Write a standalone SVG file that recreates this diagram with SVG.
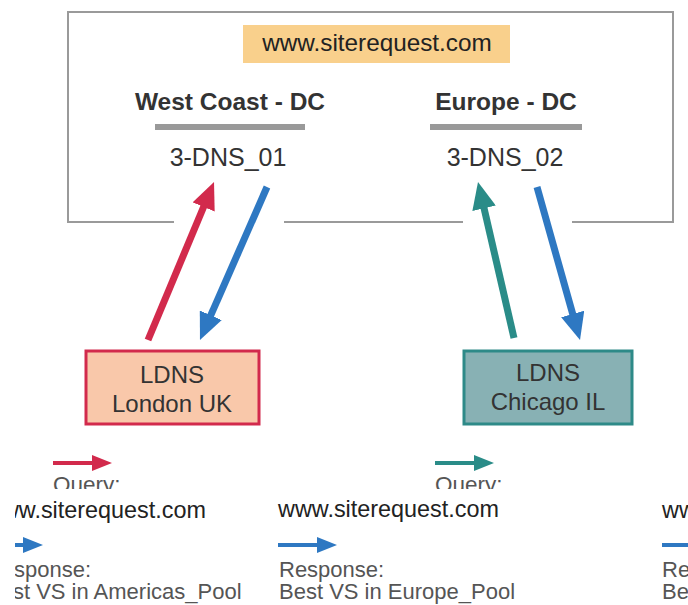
<svg xmlns="http://www.w3.org/2000/svg" width="688" height="605" viewBox="0 0 688 605">
<style>
text{font-family:"Liberation Sans",Arial,Helvetica,sans-serif;fill:#333}
.hdr{font-size:24.3px;fill:#222}
.dc{font-size:24.5px;font-weight:bold;text-anchor:middle}
.dns{font-size:25px;text-anchor:middle}
.ld{font-size:24px;text-anchor:middle}
.lg{font-size:23.4px;fill:#222}
.lr{font-size:22px;fill:#555}
.q{font-size:22.5px;fill:#555}
.big{stroke-width:7;fill:none}
.sm{stroke-width:4;fill:none}
</style>
<defs>
<marker id="hr" markerUnits="userSpaceOnUse" markerWidth="27" markerHeight="24" refX="7" refY="12" orient="auto"><path d="M0,0 L27,12 L0,24 z" fill="#D22A4C"/></marker>
<marker id="hb" markerUnits="userSpaceOnUse" markerWidth="27" markerHeight="24" refX="7" refY="12" orient="auto"><path d="M0,0 L27,12 L0,24 z" fill="#2E78C2"/></marker>
<marker id="ht" markerUnits="userSpaceOnUse" markerWidth="27" markerHeight="24" refX="7" refY="12" orient="auto"><path d="M0,0 L27,12 L0,24 z" fill="#2A8C88"/></marker>
<marker id="sr" markerUnits="userSpaceOnUse" markerWidth="20" markerHeight="16" refX="4" refY="8" orient="auto"><path d="M0,0 L20,8 L0,16 z" fill="#D22A4C"/></marker>
<marker id="sb" markerUnits="userSpaceOnUse" markerWidth="20" markerHeight="16" refX="4" refY="8" orient="auto"><path d="M0,0 L20,8 L0,16 z" fill="#2E78C2"/></marker>
<marker id="st" markerUnits="userSpaceOnUse" markerWidth="20" markerHeight="16" refX="4" refY="8" orient="auto"><path d="M0,0 L20,8 L0,16 z" fill="#2A8C88"/></marker>
<clipPath id="qc"><rect x="0" y="440" width="688" height="49"/></clipPath>
<clipPath id="lc"><rect x="15" y="495" width="673" height="110"/></clipPath>
</defs>

<g id="site-box">
<path d="M174,222 L68,222 L68,12 L673,12 L673,222 L572,222 M463,222 L284,222" fill="none" stroke="#9a9a9a" stroke-width="2"/>
<rect x="243" y="25" width="267" height="38" fill="#F9D08C"/>
<text class="hdr" x="377" y="51" text-anchor="middle">www.siterequest.com</text>
</g>

<g id="west-dc">
<text class="dc" x="230" y="110">West Coast - DC</text>
<rect x="155" y="124" width="150" height="6" fill="#999"/>
<text class="dns" x="228" y="166">3-DNS_01</text>
</g>

<g id="europe-dc">
<text class="dc" x="506" y="110">Europe - DC</text>
<rect x="430" y="124" width="152" height="6" fill="#999"/>
<text class="dns" x="505" y="166">3-DNS_02</text>
</g>

<g id="ldns-london">
<rect x="86" y="351" width="173" height="73" fill="#F9C8AA" stroke="#D22A4C" stroke-width="3"/>
<text class="ld" x="172" y="383">LDNS</text>
<text class="ld" x="172" y="412">London UK</text>
</g>

<g id="ldns-chicago">
<rect x="464" y="351" width="168" height="73" fill="#88B1B4" stroke="#2E8A88" stroke-width="3"/>
<text class="ld" x="548" y="381">LDNS</text>
<text class="ld" x="548" y="410">Chicago IL</text>
</g>

<g id="connectors">
<line class="big" x1="148" y1="340" x2="206.3" y2="200.5" stroke="#D22A4C" marker-end="url(#hr)"/>
<line class="big" x1="267" y1="187" x2="208" y2="321.7" stroke="#2E78C2" marker-end="url(#hb)"/>
<line class="big" x1="514" y1="338" x2="482.5" y2="201.5" stroke="#2A8C88" marker-end="url(#ht)"/>
<line class="big" x1="537" y1="187" x2="574.6" y2="320.7" stroke="#2E78C2" marker-end="url(#hb)"/>
</g>

<g id="legend">
<line class="sm" x1="53" y1="463" x2="96" y2="463" stroke="#D22A4C" marker-end="url(#sr)"/>
<line class="sm" x1="435" y1="463" x2="478" y2="463" stroke="#2A8C88" marker-end="url(#st)"/>
<g clip-path="url(#qc)">
<text class="q" x="53" y="492">Query:</text>
<text class="q" x="435" y="492">Query:</text>
</g>
<g clip-path="url(#lc)">
<text class="lg" x="-15" y="518">www.siterequest.com</text>
<line class="sm" x1="-16" y1="545" x2="27" y2="545" stroke="#2E78C2" marker-end="url(#sb)"/>
<text class="lr" x="-14" y="577">Response:</text>
<text class="lr" x="-14" y="599">Best VS in Americas_Pool</text>
</g>
<text class="lg" x="278" y="517">www.siterequest.com</text>
<text class="lg" x="662" y="518">www.siterequest.com</text>
<line class="sm" x1="278" y1="545" x2="321" y2="545" stroke="#2E78C2" marker-end="url(#sb)"/>
<line class="sm" x1="662" y1="545" x2="705" y2="545" stroke="#2E78C2" marker-end="url(#sb)"/>
<text class="lr" x="279" y="577">Response:</text>
<text class="lr" x="279" y="599">Best VS in Europe_Pool</text>
<text class="lr" x="662" y="577">Response:</text>
<text class="lr" x="662" y="599">Best VS in Americas_Pool</text>
</g>
</svg>
